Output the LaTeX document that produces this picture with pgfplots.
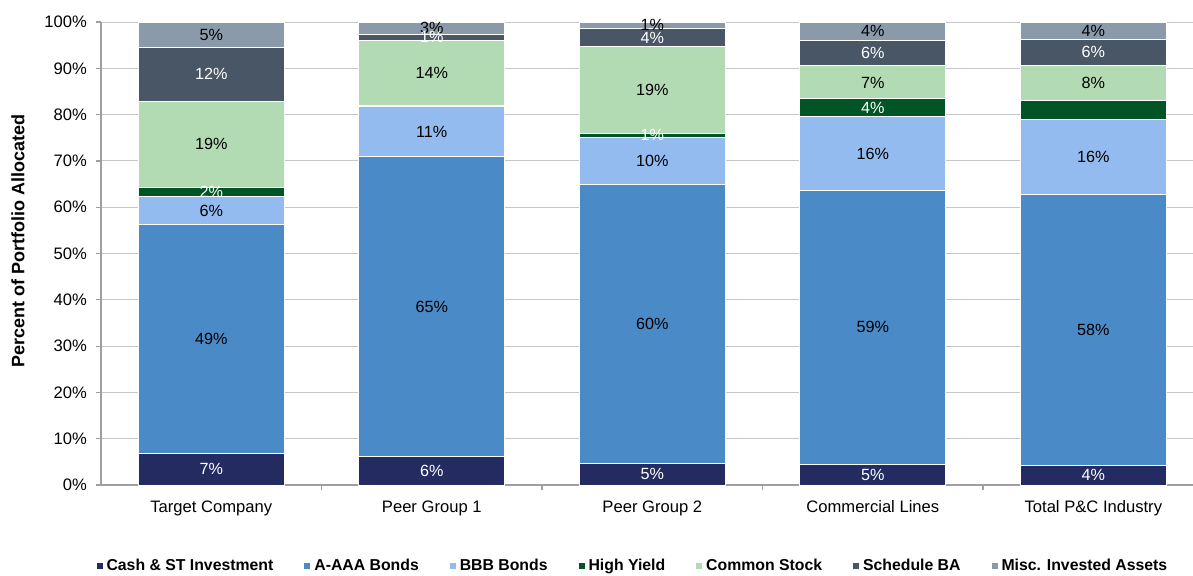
\documentclass[border=0pt]{standalone}
\usepackage{pgfplots}
\pgfplotsset{compat=1.18}
\usepackage{pgfplotstable}
\usepackage{fontspec}
\setmainfont{Liberation Sans}
\definecolor{cCash}{RGB}{35,43,96}
\definecolor{cAAA}{RGB}{74,138,199}
\definecolor{cBBB}{RGB}{147,187,240}
\definecolor{cHY}{RGB}{0,84,38}
\definecolor{cCS}{RGB}{179,219,179}
\definecolor{cBA}{RGB}{72,86,102}
\definecolor{cMisc}{RGB}{138,154,170}
\pgfplotstableread[col sep=comma]{
x,cash,aaa,bbb,hy,cs,ba,misc,Lcash,Laaa,Lbbb,Lhy,Lcs,Lba,Lmisc
0,6.9,49.3,6.2,1.9,18.6,11.6,5.5,7\%,49\%,6\%,2\%,19\%,12\%,5\%
1,6.2,64.7,10.8,0.3,14.1,1.3,2.6,6\%,65\%,11\%,,14\%,1\%,3\%
2,4.7,60.1,10.3,0.9,18.7,3.9,1.4,5\%,60\%,10\%,1\%,19\%,4\%,1\%
3,4.5,59.1,15.9,3.9,7.1,5.6,3.9,5\%,59\%,16\%,4\%,7\%,6\%,4\%
4,4.3,58.4,16.2,4.1,7.7,5.6,3.7,4\%,58\%,16\%,,8\%,6\%,4\%
}\datatable
\pgfplotsset{
  mybar/.style n args={2}{fill=#1, draw=white, line width=0.5pt,
    every node near coord/.append style={text=#2},
    legend image code/.code={\fill[fill=#1,draw=none] (0pt,-1.3pt) rectangle (3pt,1.7pt);}},
}
\begin{document}
\begin{tikzpicture}[font=\fontsize{8.3}{10}\selectfont]
\path[use as bounding box] (-50.5pt,-45pt) rectangle (546pt,242.5pt);
\begin{axis}[
  at={(0,0)}, anchor=south west,
  scale only axis, width=546pt, height=231.5pt,
  ybar stacked, bar width=73pt,
  xmin=-0.5, xmax=4.452, ymin=0, ymax=100,
  axis lines*=left,
  axis line style={draw=gray!75, line width=0.6pt},
  ymajorgrids, grid style={draw=gray!45, line width=0.5pt},
  ytick={0,10,...,100},
  yticklabel={\pgfmathprintnumber{\tick}\%},
  /pgf/number format/assume math mode=true,
  xtick={0,1,2,3,4},
  xticklabels={Target Company,Peer Group 1,Peer Group 2,Commercial Lines,Total P\&C Industry},
  minor xtick={0.5,1.5,2.5,3.5},
  tick align=outside,
  major x tick style={draw=none},
  minor x tick style={draw=gray!75, line width=0.6pt},
  major y tick style={draw=gray!75, line width=0.6pt},
  major tick length=2.5pt, minor tick length=2.5pt,
  tick label style={font=\fontsize{8.3}{10}\selectfont},
  xticklabel style={yshift=-1.5pt, text height=6pt, text depth=1.8pt},
  yticklabel style={xshift=-1pt},
  ylabel={\bfseries Percent of Portfolio Allocated},
  ylabel style={at={(axis description cs:-0.076,0.528)}, anchor=center, font=\fontsize{9}{11}\selectfont},
  point meta=explicit symbolic,
  nodes near coords={\pgfplotspointmeta},
  every node near coord/.append style={anchor=center, font=\fontsize{8.1}{10}\selectfont},
  legend style={at={(0.488,-0.175)}, anchor=center, legend columns=-1, draw=none, fill=none,
    font=\bfseries\fontsize{7.9}{9.5}\selectfont,
    /tikz/every odd column/.append style={column sep=0pt},
    /tikz/every even column/.append style={column sep=13.5pt}},
  clip=false,
]
\addplot[mybar={cCash}{white}] table[x=x,y=cash,meta=Lcash]{\datatable};
\addplot[mybar={cAAA}{black}] table[x=x,y=aaa,meta=Laaa]{\datatable};
\addplot[mybar={cBBB}{black}] table[x=x,y=bbb,meta=Lbbb]{\datatable};
\addplot[mybar={cHY}{white}] table[x=x,y=hy,meta=Lhy]{\datatable};
\addplot[mybar={cCS}{black}] table[x=x,y=cs,meta=Lcs]{\datatable};
\addplot[mybar={cBA}{white}] table[x=x,y=ba,meta=Lba]{\datatable};
\addplot[mybar={cMisc}{black}] table[x=x,y=misc,meta=Lmisc]{\datatable};
\legend{Cash \& ST Investment, A-AAA Bonds, BBB Bonds, High Yield, Common Stock, Schedule BA, Misc. Invested Assets}
\end{axis}
\end{tikzpicture}
\end{document}
